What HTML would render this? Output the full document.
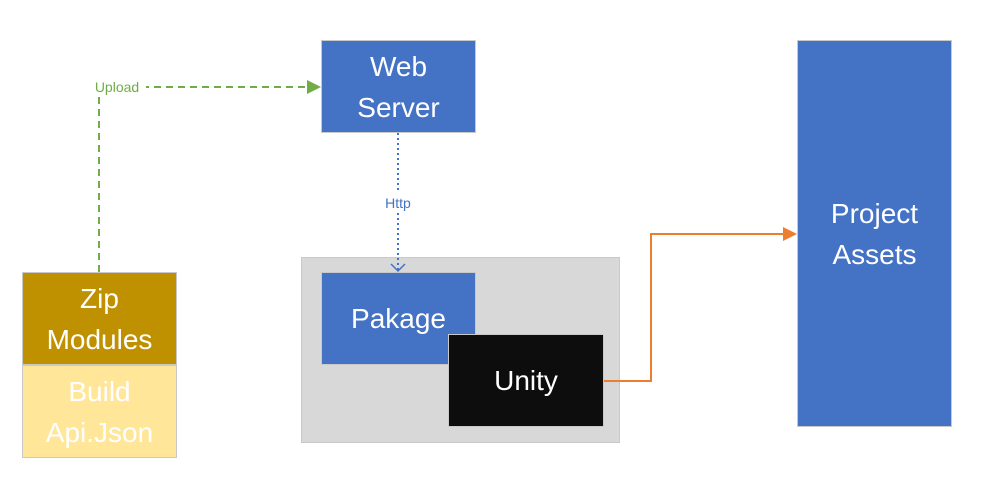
<!DOCTYPE html>
<html><head><style>
body{margin:0;width:986px;height:489px;background:#fff;position:relative;overflow:hidden;font-family:"Liberation Sans",sans-serif}
.b{position:absolute;box-sizing:border-box;display:flex;align-items:center;justify-content:center;text-align:center;color:#fff;font-size:28px;line-height:41px;border:1px solid #c9c9c9}
</style></head><body>
<div class="b" style="left:301px;top:257px;width:319px;height:186px;background:#d8d8d8"></div>
<div class="b" style="left:321px;top:40px;width:155px;height:93px;background:#4472c4">Web<br>Server</div>
<div class="b" style="left:321px;top:272px;width:155px;height:93px;background:#4472c4">Pakage</div>
<div class="b" style="left:448px;top:334px;width:156px;height:93px;background:#0d0d0d">Unity</div>
<div class="b" style="left:22px;top:272px;width:155px;height:93px;background:#bf9000">Zip<br>Modules</div>
<div class="b" style="left:22px;top:365px;width:155px;height:93px;background:#ffe699">Build<br>Api.Json</div>
<div class="b" style="left:797px;top:40px;width:155px;height:387px;background:#4472c4">Project<br>Assets</div>
<svg width="986" height="489" style="position:absolute;left:0;top:0">
<path d="M99 272 V87 H310" fill="none" stroke="#70ad47" stroke-width="2" stroke-dasharray="7,5"/>
<polygon points="307,80 321,87 307,94" fill="#70ad47"/>
<rect x="88" y="78" width="58" height="18" fill="#fff"/>
<text x="117" y="92" font-size="14" fill="#70ad47" text-anchor="middle" font-family="Liberation Sans,sans-serif">Upload</text>
<path d="M398 133 V271" fill="none" stroke="#4472c4" stroke-width="2" stroke-dasharray="2,3"/>
<path d="M391 264 L398 271 L405 264" fill="none" stroke="#4472c4" stroke-width="1.5"/>
<rect x="380" y="193" width="36" height="18" fill="#fff"/>
<text x="398" y="208" font-size="14" fill="#4472c4" text-anchor="middle" font-family="Liberation Sans,sans-serif">Http</text>
<path d="M604 381 H651 V234 H785" fill="none" stroke="#ed7d31" stroke-width="2"/>
<polygon points="783,227 797,234 783,241" fill="#ed7d31"/>
</svg>
</body></html>
